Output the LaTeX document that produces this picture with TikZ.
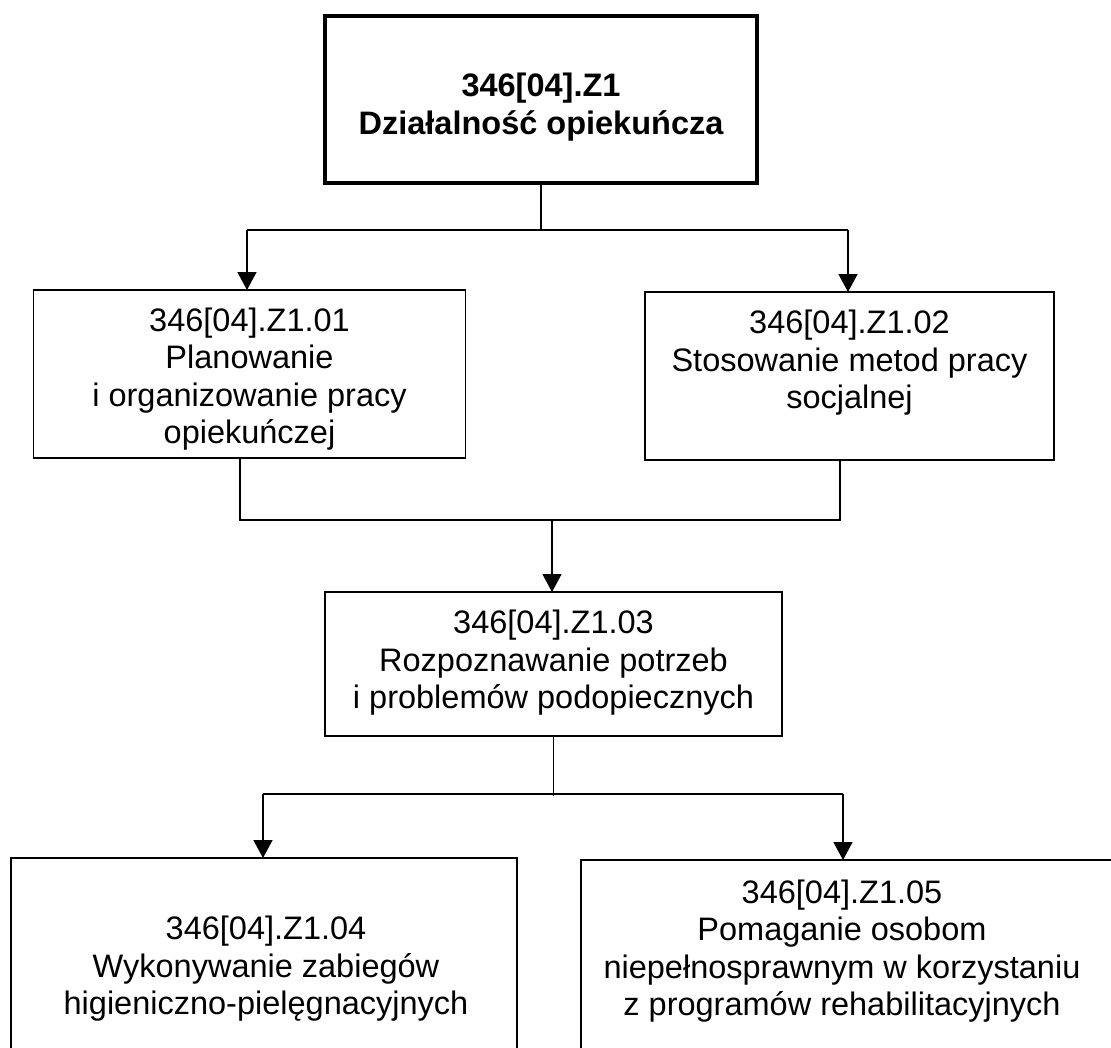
\documentclass[tikz,border=0pt]{standalone}
\usepackage{fontspec}
\setmainfont{Liberation Sans}
\usetikzlibrary{arrows.meta}
\tikzset{
  box/.style={draw, line width=1.6pt, inner sep=0pt, outer sep=0pt},
  topbox/.style={draw, line width=3.5pt, inner sep=0pt, outer sep=0pt},
  txt/.style={align=center, inner sep=0pt, font=\fontsize{32.5}{37.5}\selectfont},
  conn/.style={line width=1.5pt},
  arr/.style={conn, -{Triangle[width=19pt,length=18pt]}}
}
\begin{document}
\begin{tikzpicture}[x=1pt,y=-1pt]
\useasboundingbox (0,0) rectangle (1111,1047);
\clip (0,0) rectangle (1111,1047);
\fill[white] (0,0) rectangle (1111,1047);
% boxes
\node[topbox, minimum width=432pt, minimum height=167pt] (z1) at (541,99.5) {};
\node[box, minimum width=432pt, minimum height=168pt] (b1) at (249.5,374) {};
\node[box, minimum width=409pt, minimum height=168pt] (b2) at (849.5,376) {};
\node[box, minimum width=457pt, minimum height=144pt] (b3) at (553.5,664) {};
\node[box, minimum width=506pt, minimum height=214pt] (b4) at (264,965) {};
\node[box, minimum width=540pt, minimum height=212pt] (b5) at (851,966) {};
% texts
\node[txt, font=\fontsize{32.5}{38}\selectfont\bfseries] (z1t) at (541,107) {346[04].Z1\\Działalność opiekuńcza};
\node[txt] (t1) at (249.5,379) {346[04].Z1.01\\Planowanie\\i organizowanie pracy\\opiekuńczej};
\node[txt] (t2) at (849.5,363) {346[04].Z1.02\\Stosowanie metod pracy\\socjalnej};
\node[txt] (t3) at (553.5,663) {346[04].Z1.03\\Rozpoznawanie potrzeb\\i problemów podopiecznych};
\node[txt] (t4) at (266,969) {346[04].Z1.04\\Wykonywanie zabiegów\\higieniczno-pielęgnacyjnych};
\node[txt] (t5) at (842,951) {346[04].Z1.05\\Pomaganie osobom\\niepełnosprawnym w korzystaniu\\z programów rehabilitacyjnych};
% top connectors
\coordinate (j1) at (541,230);
\coordinate (jL) at (247,230);
\coordinate (jR) at (848,230);
\draw[conn] (z1.south) -- (j1);
\draw[conn] (jL) -- (jR);
\draw[arr] (jL) -- (jL |- b1.north);
\draw[arr] (jR) -- (jR |- b2.north);
% middle connectors
\coordinate (m1) at (240,520);
\coordinate (m2) at (840,520);
\coordinate (m3) at (552,520);
\draw[conn] (b1.south -| m1) -- (m1) -- (m2) -- (b2.south -| m2);
\draw[arr] (m3) -- (m3 |- b3.north);
% bottom connectors
\coordinate (n0) at (553.5,796);
\coordinate (nL) at (263,794);
\coordinate (nR) at (843,794);
\draw[conn] (b3.south) -- (n0);
\draw[conn] (nL) -- (nR);
\draw[arr] (nL) -- (nL |- b4.north);
\draw[arr] (nR) -- (nR |- b5.north);
\end{tikzpicture}
\end{document}
